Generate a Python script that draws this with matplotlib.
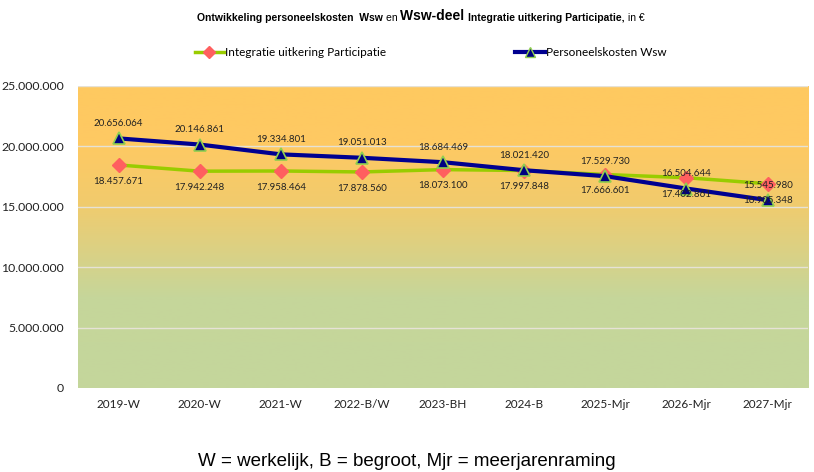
import numpy as np
import matplotlib
matplotlib.use("Agg")
import matplotlib.pyplot as plt
from matplotlib.colors import LinearSegmentedColormap
from matplotlib.lines import Line2D

# data
jaren = ["2019-W", "2020-W", "2021-W", "2022-B/W", "2023-BH", "2024-B",
         "2025-Mjr", "2026-Mjr", "2027-Mjr"]
integratie = [18457671, 17942248, 17958464, 17878560, 18073100, 17997848,
              17666601, 17402861, 16905348]
personeel = [20656064, 20146861, 19334801, 19051013, 18684469, 18021420,
             17529730, 16504644, 15545980]
yticks = [0, 5000000, 10000000, 15000000, 20000000, 25000000]


def fmt(v):
    return f"{v:,.0f}".replace(",", ".")


fig = plt.figure(figsize=(8.14, 4.72), dpi=100)
ax = fig.add_axes([0.0958, 0.178, 0.897, 0.64])

x = np.arange(len(jaren))
ax.set_xlim(-0.5, len(jaren) - 0.5)
ax.set_ylim(0, 25000000)

# gradient background (orange top -> green bottom)
cmap = LinearSegmentedColormap.from_list(
    "bg", [(0.0, "#c4d69c"), (0.3, "#c6d69a"), (0.62, "#f2cb6c"),
           (0.8, "#fec963"), (1.0, "#ffc960")])
grad = np.linspace(0, 1, 256).reshape(-1, 1)
ax.imshow(grad, aspect="auto", cmap=cmap, origin="lower",
          extent=[-0.5, len(jaren) - 0.5, 0, 25000000], zorder=0)

for t in yticks[1:]:
    ax.axhline(t, color="#e6e2d6", lw=1, zorder=1)

ax.plot(x, integratie, color="#99cc00", lw=2.5, marker="D", ms=7,
        mfc="#ff5f5f", mec="#ff5f5f", zorder=3)
ax.plot(x, personeel, color="#000090", lw=3, marker="^", ms=8,
        mfc="#000080", mec="#8fcf4f", mew=1.2, zorder=4)

for xi, v in zip(x, personeel):
    ax.annotate(fmt(v), (xi, v), xytext=(0, 7.5), textcoords="offset points",
                ha="center", va="bottom", fontsize=7, color="#222222",
                family="Lato", zorder=5)
for xi, v in zip(x, integratie):
    ax.annotate(fmt(v), (xi, v), xytext=(0, -8.5), textcoords="offset points",
                ha="center", va="top", fontsize=7, color="#222222",
                family="Lato", zorder=5)

ax.set_xticks(x)
ax.set_xticklabels(jaren, family="Lato", fontsize=8.5, color="#222222")
ax.set_yticks(yticks)
ax.set_yticklabels([fmt(t) for t in yticks], family="Lato", fontsize=8.8,
                   color="#222222")
ax.tick_params(length=0, pad=8)
ax.tick_params(axis="y", pad=10)
for s in ax.spines.values():
    s.set_visible(False)

# title in pieces with mixed sizes
parts = [("Ontwikkeling personeelskosten  Wsw ", "bold", 7.5),
         ("en ", "normal", 7.5),
         ("Wsw-deel ", "bold", 10),
         ("Integratie uitkering Participatie,", "bold", 7.5),
         (" in €", "normal", 7.5)]
prev = fig.text(0.242, 0.955, parts[0][0], fontweight=parts[0][1],
                fontsize=parts[0][2], family="Liberation Sans", va="baseline")
for txt, w, fs in parts[1:]:
    prev = plt.annotate(txt, xy=(1, 0), xycoords=prev, va="bottom",
                        fontweight=w, fontsize=fs, family="Liberation Sans")

# legend
h1 = Line2D([], [], color="#99cc00", lw=2.5, marker="D", ms=6,
            mfc="#ff5f5f", mec="#ff5f5f")
h2 = Line2D([], [], color="#000090", lw=3, marker="^", ms=7,
            mfc="#000080", mec="#8fcf4f")
fig.legend([h1], ["Integratie uitkering Participatie"], loc="center left",
           bbox_to_anchor=(0.226, 0.888), frameon=False,
           prop={"family": "Lato", "size": 8.5}, handlelength=2.5,
           handletextpad=0.1)
fig.legend([h2], ["Personeelskosten Wsw"], loc="center left",
           bbox_to_anchor=(0.620, 0.888), frameon=False,
           prop={"family": "Lato", "size": 8.5}, handlelength=2.5,
           handletextpad=0.1)

fig.text(0.5, 0.012, "W = werkelijk, B = begroot, Mjr = meerjarenraming",
         ha="center", va="baseline", fontsize=13.5, family="Liberation Sans")

fig.savefig("out.png", dpi=100)
